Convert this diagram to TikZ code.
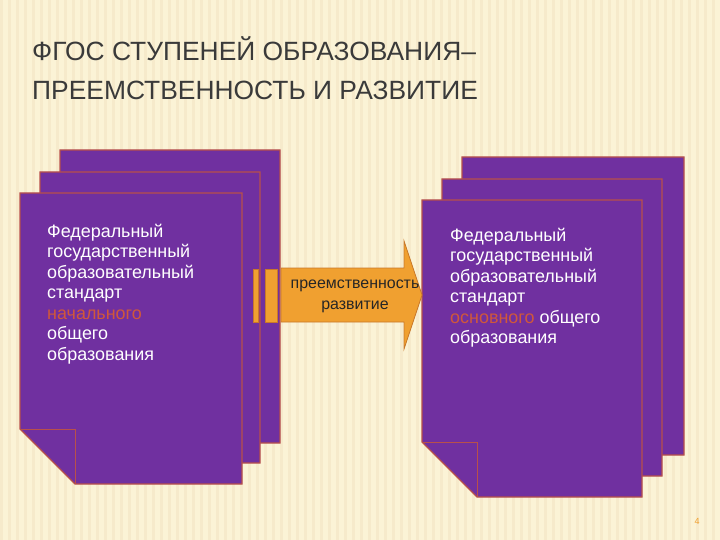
\documentclass[tikz,border=0pt]{standalone}
\usepackage{fontspec}
\setmainfont{Liberation Sans}
\usetikzlibrary{shapes.arrows}
\definecolor{bg}{HTML}{FBF3D6}
\definecolor{stripe}{HTML}{F6EACB}
\definecolor{pur}{HTML}{7030A0}
\definecolor{pedge}{HTML}{B8504A}
\definecolor{org}{HTML}{F0A030}
\definecolor{oedge}{HTML}{C8782A}
\definecolor{hl}{HTML}{D0583A}
\definecolor{ttl}{HTML}{3A3A3A}
\tikzset{
 page/.style={fill=pur,draw=pedge,line width=1.2bp},
 bar/.style={fill=org,draw=oedge,line width=0.8bp},
 doctext/.style={text=white,font=\fontsize{18}{20.5}\selectfont,align=left,anchor=north west,inner sep=0pt},
 arrtext/.style={text=black!85,font=\fontsize{16}{21}\selectfont,align=center,inner sep=0pt},
 ttlstyle/.style={anchor=base west,text=ttl,font=\fontsize{26.5}{30}\selectfont,inner sep=0pt}
}
\newcommand{\pg}[4]{\path[page] (#1,#2)--(#3,#2)--(#3,#4)--({#1+55},#4)--(#1,{#4-55})--cycle;
 \draw[pedge,line width=1bp] (#1,{#4-55})--({#1+55},{#4-55})--({#1+55},#4);}
\begin{document}
\begin{tikzpicture}[x=1bp,y=-1bp]
\fill[bg] (0,0) rectangle (720,540);
\foreach \i in {0,8,...,712}{\fill[stripe] (\i,0) rectangle (\i+3,540);}
\useasboundingbox (0,0) rectangle (720,540);
\node[ttlstyle] (title1) at (32,61) {ФГОС СТУПЕНЕЙ ОБРАЗОВАНИЯ–};
\node[ttlstyle] (title2) at (32,100) {ПРЕЕМСТВЕННОСТЬ И РАЗВИТИЕ};
% left stack
\pg{60}{150}{280}{443}
\pg{40}{172}{260}{463}
\pg{20}{193}{242}{484}
\node[doctext] (lt) at (47,224) {Федеральный\\государственный\\образовательный\\стандарт\\\textcolor{hl}{начального}\\общего\\образования};
% right stack
\pg{462}{157}{684}{455}
\pg{442}{179}{662}{476}
\pg{422}{200}{642}{497}
\node[doctext] (rt) at (450,228) {Федеральный\\государственный\\образовательный\\стандарт\\\textcolor{hl}{основного} общего\\образования};
% arrow
\path[bar] (253,269) rectangle (258,322);
\path[bar] (265,269) rectangle (277,322);
\path[bar] (281,268)--(404,268)--(404,241)--(422,295)--(404,349)--(404,322)--(281,322)--cycle;
\node[arrtext] (at) at (355,296) {преемственность\\развитие};
\node[text=org,font=\fontsize{9}{9}\selectfont] (num) at (697,521) {4};
\end{tikzpicture}
\end{document}
